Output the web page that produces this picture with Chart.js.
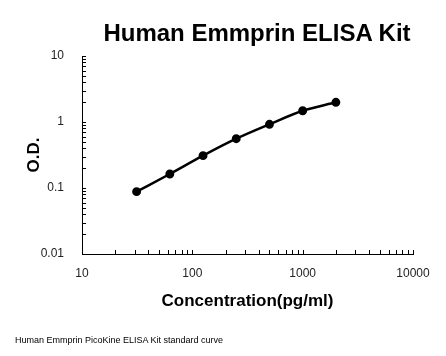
<!DOCTYPE html>
<html>
<head>
<meta charset="utf-8">
<script src="https://cdn.jsdelivr.net/npm/chart.js@4/dist/chart.umd.min.js"></script>
<style>
  html, body { margin: 0; padding: 0; background: #fff; }
  #wrap { position: relative; width: 446px; height: 356px; overflow: hidden; }
  #c { position: absolute; left: 0; top: 0; }
  #title { position: absolute; left: 0; width: 514px; top: 19px; text-align: center;
           font: bold 24px "Liberation Sans", Arial, sans-serif; color: #000; white-space: nowrap; }
  #foot { position: absolute; left: 15px; top: 335px; font: 9px "Liberation Sans", Arial, sans-serif; color: #000; white-space: nowrap; }
</style>
</head>
<body>
<div id="wrap">
  <canvas id="c" width="446" height="356"></canvas>
  <div id="title">Human Emmprin ELISA Kit</div>
  <div id="foot">Human Emmprin PicoKine ELISA Kit standard curve</div>
</div>
<script>
// Data
const concentration = [31.25, 62.5, 125, 250, 500, 1000, 2000];
const od = [0.088, 0.163, 0.309, 0.558, 0.923, 1.48, 1.99];
const xRange = [10, 10000];
const yRange = [0.01, 10];
const xTitle = 'Concentration(pg/ml)';
const yTitle = 'O.D.';

function isPow10(v) {
  const l = Math.log10(v);
  return Math.abs(l - Math.round(l)) < 1e-9;
}
function fmt(v) {
  const l = Math.round(Math.log10(v));
  return l < 0 ? v.toFixed(-l) : String(Math.round(v));
}
function logTicks(scale) {
  const t = [];
  const lo = Math.round(Math.log10(scale.min)), hi = Math.round(Math.log10(scale.max));
  for (let e = lo; e <= hi; e++) {
    const d = Math.pow(10, e);
    for (let m = 1; m <= 9; m++) {
      if (e === hi && m > 1) break;
      t.push({ value: parseFloat((m * d).toPrecision(6)) });
    }
  }
  scale.ticks = t;
}

const innerTicks = {
  id: 'innerTicks',
  afterDraw(chart) {
    const ctx = chart.ctx, a = chart.chartArea;
    ctx.save();
    ctx.strokeStyle = '#000';
    ctx.lineWidth = 1;
    const xs = chart.scales.x, ys = chart.scales.y;
    ctx.beginPath();
    xs.ticks.forEach(t => {
      const px = Math.round(xs.getPixelForValue(t.value)) + 0.5;
      ctx.moveTo(px, a.bottom); ctx.lineTo(px, a.bottom - 4);
    });
    ys.ticks.forEach(t => {
      const py = Math.round(ys.getPixelForValue(t.value)) + 0.5;
      ctx.moveTo(a.left, py); ctx.lineTo(a.left + 4, py);
    });
    ctx.stroke();
    ctx.restore();
  }
};

const points = concentration.map((c, i) => ({ x: c, y: od[i] }));

new Chart(document.getElementById('c'), {
  type: 'line',
  data: {
    datasets: [{
      data: points,
      borderColor: '#000',
      backgroundColor: '#000',
      borderWidth: 2.5,
      pointRadius: 3.2,
      pointBackgroundColor: '#000',
      pointBorderColor: '#000',
      cubicInterpolationMode: 'monotone',
      fill: false
    }]
  },
  options: {
    responsive: false,
    animation: false,
    devicePixelRatio: 1,
    layout: { padding: { left: 22, right: 33, top: 56, bottom: 40 } },
    plugins: { legend: { display: false }, tooltip: { enabled: false }, title: { display: false } },
    scales: {
      x: {
        type: 'logarithmic',
        min: xRange[0], max: xRange[1],
        afterBuildTicks: logTicks,
        afterFit(s) { s.height = 62; },
        grid: { display: false },
        border: { display: true, color: '#000', width: 1 },
        ticks: {
          autoSkip: false, maxRotation: 0, padding: 4,
          color: '#222',
          font: { family: '"Liberation Sans", Arial, sans-serif', size: 12 },
          callback: v => isPow10(v) ? fmt(v) : ''
        },
        title: {
          display: true, text: xTitle, color: '#000',
          font: { family: '"Liberation Sans", Arial, sans-serif', size: 17, weight: 'bold' },
          padding: { top: 0, bottom: 4 }
        }
      },
      y: {
        type: 'logarithmic',
        min: yRange[0], max: yRange[1],
        afterBuildTicks: logTicks,
        afterFit(s) { s.width = 60; },
        grid: { display: false },
        border: { display: true, color: '#000', width: 1 },
        ticks: {
          autoSkip: false, padding: 10,
          color: '#222',
          font: { family: '"Liberation Sans", Arial, sans-serif', size: 12 },
          callback: v => isPow10(v) ? fmt(v) : ''
        },
        title: {
          display: true, text: yTitle, color: '#000',
          font: { family: '"Liberation Sans", Arial, sans-serif', size: 17, weight: 'bold' },
          padding: { top: 2, bottom: 0 }
        }
      }
    }
  },
  plugins: [innerTicks]
});
</script>
</body>
</html>
